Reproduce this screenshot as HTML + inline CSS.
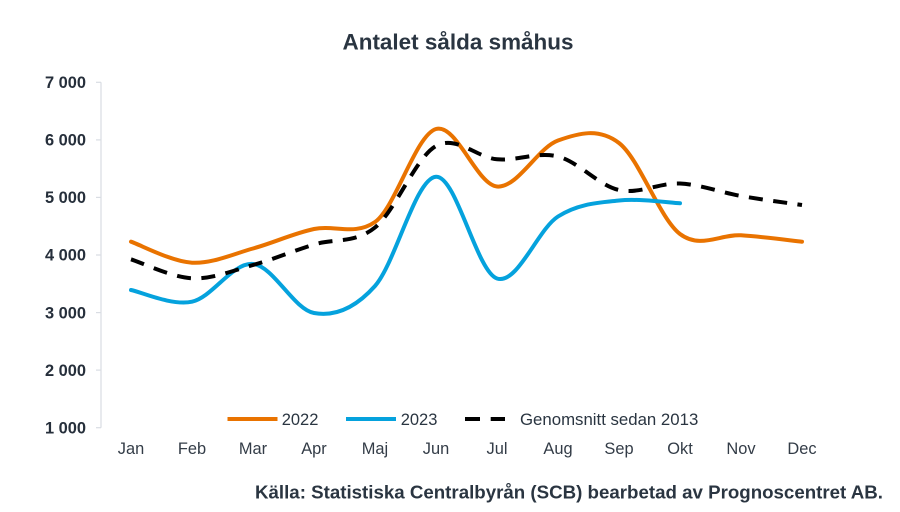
<!DOCTYPE html>
<html>
<head>
<meta charset="utf-8">
<style>
  html, body { margin:0; padding:0; background:#ffffff; }
  svg { display:block; }
  text { font-family: "Liberation Sans", Arial, sans-serif; }
</style>
</head>
<body>
<svg width="900" height="512" viewBox="0 0 900 512" xmlns="http://www.w3.org/2000/svg">
  <rect x="0" y="0" width="900" height="512" fill="#ffffff"/>

  <!-- Title -->
  <text x="458" y="49.3" text-anchor="middle" font-size="22.5" font-weight="bold" fill="#2a3541" textLength="231" lengthAdjust="spacingAndGlyphs">Antalet sålda småhus</text>

  <!-- Y axis -->
  <g stroke="#d9dde3" stroke-width="1.2" fill="none">
    <line x1="101" y1="82.3" x2="101" y2="427.7"/>
    <line x1="96" y1="82.3" x2="101" y2="82.3"/>
    <line x1="96" y1="139.9" x2="101" y2="139.9"/>
    <line x1="96" y1="197.4" x2="101" y2="197.4"/>
    <line x1="96" y1="255" x2="101" y2="255"/>
    <line x1="96" y1="312.6" x2="101" y2="312.6"/>
    <line x1="96" y1="370.1" x2="101" y2="370.1"/>
    <line x1="96" y1="427.7" x2="101" y2="427.7"/>
  </g>
  <g font-size="16.4" font-weight="bold" fill="#262f3b" text-anchor="end">
    <text x="86" y="88">7 000</text>
    <text x="86" y="145.6">6 000</text>
    <text x="86" y="203.1">5 000</text>
    <text x="86" y="260.7">4 000</text>
    <text x="86" y="318.3">3 000</text>
    <text x="86" y="375.8">2 000</text>
    <text x="86" y="433.4">1 000</text>
  </g>

  <!-- X labels -->
  <g font-size="16.4" fill="#333c47" text-anchor="middle">
    <text x="131" y="454">Jan</text>
    <text x="192" y="454">Feb</text>
    <text x="253" y="454">Mar</text>
    <text x="314" y="454">Apr</text>
    <text x="375" y="454">Maj</text>
    <text x="436" y="454">Jun</text>
    <text x="497" y="454">Jul</text>
    <text x="558" y="454">Aug</text>
    <text x="619" y="454">Sep</text>
    <text x="680" y="454">Okt</text>
    <text x="741" y="454">Nov</text>
    <text x="802" y="454">Dec</text>
  </g>

  <!-- 2022 series -->
  <path fill="none" stroke="#E97300" stroke-width="4" stroke-linecap="round" stroke-linejoin="round"
    d="M131,241.7
       C141.17,245.2 171.67,261.57 192,262.7
       C212.33,263.83 232.67,254.12 253,248.5
       C273.33,242.88 293.67,233.33 314,229
       C334.33,224.67 354.67,236 375,222
       C395.33,208 415.67,135 436,129
       C456.33,123 476.67,184.58 497,186.5
       C517.33,188.42 537.67,147.75 558,140.5
       C578.33,133.25 598.67,127.42 619,143
       C639.33,158.58 659.67,218.62 680,234
       C700.33,249.38 720.67,234.02 741,235.3
       C761.33,236.58 791.83,240.63 802,241.7"/>

  <!-- 2023 series -->
  <path fill="none" stroke="#05A2DD" stroke-width="4" stroke-linecap="round" stroke-linejoin="round"
    d="M131,290
       C141.17,291.95 171.67,306.03 192,301.7
       C212.33,297.37 232.67,262.12 253,264
       C273.33,265.88 293.67,309.33 314,313
       C334.33,316.67 354.67,308.72 375,286
       C395.33,263.28 415.67,177.95 436,176.7
       C456.33,175.45 476.67,271.87 497,278.5
       C517.33,285.13 537.67,229.5 558,216.5
       C578.33,203.5 598.67,202.7 619,200.5
       C639.33,198.3 669.83,202.83 680,203.3"/>

  <!-- Average series (dashed) -->
  <path fill="none" stroke="#000000" stroke-width="4" stroke-dasharray="14 10.5" stroke-linejoin="round"
    d="M131,259.3
       C141.17,262.47 171.67,277.35 192,278.3
       C212.33,279.25 232.67,270.63 253,265
       C273.33,259.37 293.67,250.75 314,244.5
       C334.33,238.25 354.67,243.92 375,227.5
       C395.33,211.08 415.67,157.37 436,146
       C456.33,134.63 476.67,157.55 497,159.3
       C517.33,161.05 537.67,151.38 558,156.5
       C578.33,161.62 598.67,185.5 619,190
       C639.33,194.5 659.67,182.5 680,183.5
       C700.33,184.5 720.67,192.42 741,196
       C761.33,199.58 791.83,203.5 802,205"/>

  <!-- Legend -->
  <line x1="227.5" y1="419" x2="277.5" y2="419" stroke="#E97300" stroke-width="4"/>
  <text x="281.7" y="425" font-size="16.5" fill="#2a3541">2022</text>
  <line x1="346" y1="419" x2="396" y2="419" stroke="#05A2DD" stroke-width="4"/>
  <text x="400.7" y="425" font-size="16.5" fill="#2a3541">2023</text>
  <line x1="465" y1="419" x2="480" y2="419" stroke="#000000" stroke-width="4"/>
  <line x1="490.7" y1="419" x2="505" y2="419" stroke="#000000" stroke-width="4"/>
  <text x="520" y="425" font-size="16.7" fill="#2a3541" textLength="178.3" lengthAdjust="spacingAndGlyphs">Genomsnitt sedan 2013</text>

  <!-- Source -->
  <text x="255" y="498.3" font-size="18" font-weight="bold" fill="#2a3541" textLength="628" lengthAdjust="spacingAndGlyphs">Källa: Statistiska Centralbyrån (SCB) bearbetad av Prognoscentret AB.</text>
</svg>
</body>
</html>
